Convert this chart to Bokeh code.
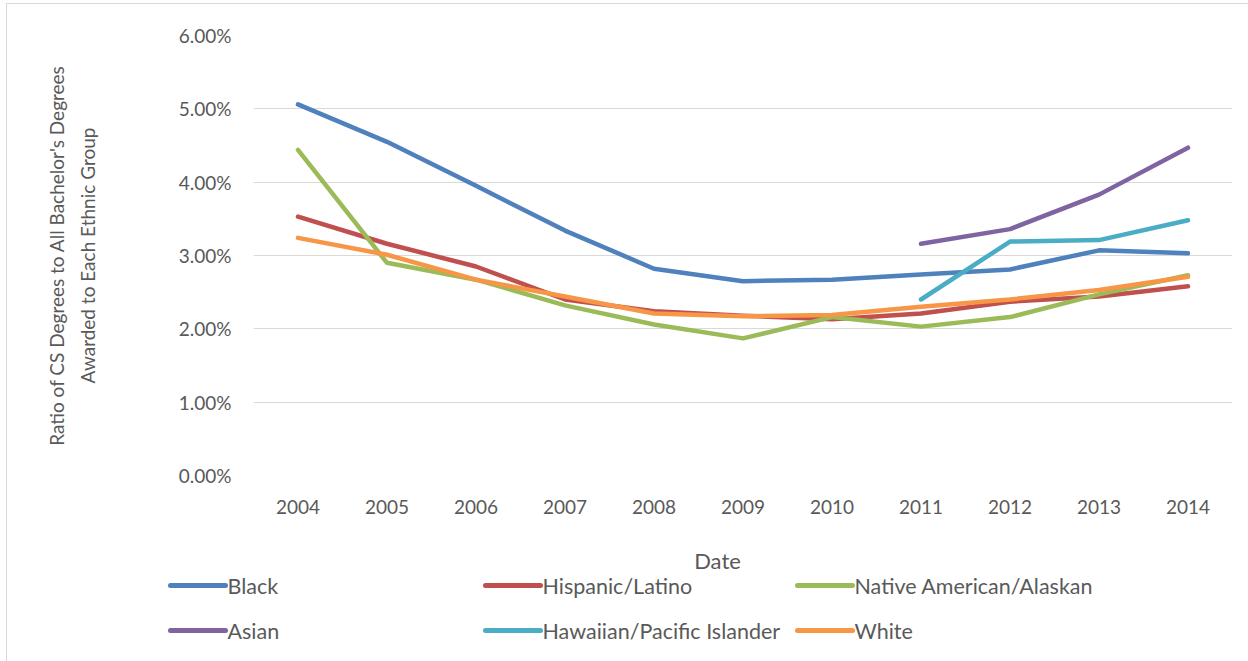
from bokeh.plotting import figure
from bokeh.layouts import column
from bokeh.models import FactorRange, Range1d, FixedTicker, PrintfTickFormatter
from bokeh.core.properties import value
from bokeh.embed import file_html
from bokeh.resources import INLINE

# Share of CS degrees among all bachelor's degrees, by ethnic group (percent)
years = ["2004", "2005", "2006", "2007", "2008", "2009", "2010", "2011", "2012", "2013", "2014"]
black = [5.06, 4.55, 3.95, 3.34, 2.82, 2.65, 2.67, 2.74, 2.81, 3.07, 3.03]
hispanic = [3.53, 3.16, 2.85, 2.40, 2.24, 2.18, 2.13, 2.21, 2.37, 2.44, 2.58]
native = [4.44, 2.90, 2.67, 2.32, 2.06, 1.87, 2.16, 2.03, 2.16, 2.47, 2.73]
white = [3.24, 3.01, 2.67, 2.44, 2.21, 2.17, 2.19, 2.30, 2.40, 2.53, 2.71]
asian_years = ["2011", "2012", "2013", "2014"]
asian = [3.16, 3.36, 3.83, 4.47]
hawaiian_years = ["2011", "2012", "2013", "2014"]
hawaiian = [2.40, 3.19, 3.21, 3.48]
y_ticks = [0, 1, 2, 3, 4, 5, 6]

FONT = "Lato"
TXT = "#595959"
W = 1241

series = [
    ("Black", years, black, "#4F81BD"),
    ("Hispanic/Latino", years, hispanic, "#C0504D"),
    ("Native American/Alaskan", years, native, "#9BBB59"),
    ("Asian", asian_years, asian, "#8064A2"),
    ("Hawaiian/Pacific Islander", hawaiian_years, hawaiian, "#4BACC6"),
    ("White", years, white, "#F79646"),
]

# ---- main line chart ----
p = figure(x_range=FactorRange(*years), y_range=Range1d(0, 6),
           width=W, height=536, output_backend="svg", toolbar_location=None,
           min_border_left=246, min_border_right=16, min_border_top=31,
           min_border_bottom=65)
p.frame_align = False
p.outline_line_color = None
p.xgrid.grid_line_color = None
p.ygrid.grid_line_color = "#d9d9d9"
p.ygrid.grid_line_width = 1
p.yaxis.ticker = FixedTicker(ticks=y_ticks)
p.yaxis.formatter = PrintfTickFormatter(format="%.2f%%")
for ax in (p.xaxis[0], p.yaxis[0]):
    ax.axis_line_color = None
    ax.major_tick_line_color = None
    ax.minor_tick_line_color = None
    ax.major_label_text_font = FONT
    ax.major_label_text_font_size = "19px"
    ax.major_label_text_color = TXT
p.xaxis.major_label_standoff = 18
p.yaxis.major_label_standoff = 16
p.yaxis.axis_label = "Ratio of CS Degrees to All Bachelor's Degrees\nAwarded to Each Ethnic Group"
p.yaxis.axis_label_text_font = FONT
p.yaxis.axis_label_text_font_size = "19px"
p.yaxis.axis_label_text_font_style = "normal"
p.yaxis.axis_label_text_color = TXT
p.yaxis.axis_label_text_align = "center"
p.yaxis.axis_label_text_line_height = 1.35
p.yaxis.axis_label_standoff = 77

for name, xs, ys, color in series:
    p.line(xs, ys, line_color=color, line_width=4.5,
           line_cap="round", line_join="round")

# ---- x-axis title and legend strip ----
H2 = 121
leg = figure(width=W, height=H2, x_range=Range1d(0, W), y_range=Range1d(H2, 0),
             output_backend="svg", toolbar_location=None,
             min_border=0, min_border_left=0, min_border_right=0,
             min_border_top=0, min_border_bottom=0)
leg.frame_align = False
leg.axis.visible = False
leg.grid.visible = False
leg.outline_line_color = None

leg.text(x=[710], y=[20], text=["Date"], text_font=value(FONT),
         text_font_size="22px", text_color=TXT, text_align="center",
         text_baseline="middle")

col_x = [163, 478, 790]      # swatch start of each legend column
row_y = [45, 90]             # centre line of each legend row
swatch = 55
names = [s[0] for s in series]
colors = [s[3] for s in series]
sx0, sx1, sy, tx = [], [], [], []
for i in range(len(series)):
    cx = col_x[i % 3]
    ry = row_y[i // 3]
    sx0.append(cx)
    sx1.append(cx + swatch)
    sy.append(ry)
    tx.append(cx + swatch + 2)
leg.segment(x0=sx0, y0=sy, x1=sx1, y1=sy, line_color=colors, line_width=5,
            line_cap="round")
leg.text(x=tx, y=sy, text=names, text_font=value(FONT), text_font_size="21.5px",
         text_color=TXT, text_align="left", text_baseline="middle")

layout = column(p, leg, spacing=0)
layout.margin = (3, 0, 0, 6)
layout.styles = {"border-left": "1px solid #d9d9d9", "border-top": "1px solid #d9d9d9"}

open("out.html", "w").write(file_html(layout, INLINE))
